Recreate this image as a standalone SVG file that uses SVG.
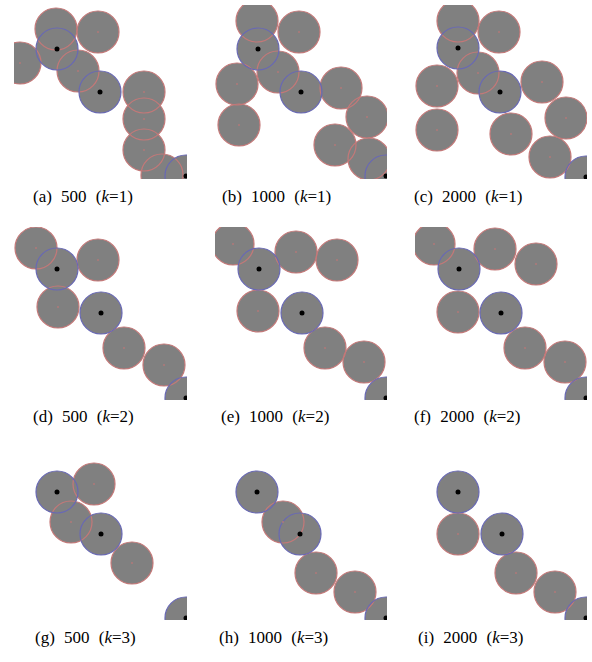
<svg xmlns="http://www.w3.org/2000/svg" xmlns:xlink="http://www.w3.org/1999/xlink" width="592" height="662" viewBox="0 0 592 662">
<style>
.f{fill:#808080;stroke:none}
.r{fill:none;stroke:#c47878;stroke-width:1.2}
.b{fill:none;stroke:#6868b4;stroke-width:1.2}
.d{fill:#000}
.c{fill:#b07878}
.cap{font-family:"Liberation Serif","Times New Roman",serif;font-size:17px;word-spacing:5px;fill:#000}
</style>
<defs>
<clipPath id="ca"><rect x="14" y="5" width="173" height="174"/></clipPath>
<clipPath id="cb"><rect x="215" y="5" width="172" height="174"/></clipPath>
<clipPath id="cc"><rect x="415" y="5" width="172" height="174"/></clipPath>
<clipPath id="cd"><rect x="14" y="227" width="173" height="173"/></clipPath>
<clipPath id="ce"><rect x="215" y="227" width="172" height="173"/></clipPath>
<clipPath id="cf"><rect x="415" y="227" width="172" height="173"/></clipPath>
<clipPath id="cg"><rect x="14" y="447" width="173" height="173"/></clipPath>
<clipPath id="ch"><rect x="215" y="447" width="172" height="173"/></clipPath>
<clipPath id="ci"><rect x="415" y="447" width="172" height="173"/></clipPath>
</defs>
<rect width="592" height="662" fill="#fff"/>

<g id="panel-a" clip-path="url(#ca)">
<g>
<circle class="f" cx="56" cy="29" r="21"/><circle class="f" cx="98" cy="32" r="21"/><circle class="f" cx="20" cy="63" r="21"/><circle class="f" cx="78" cy="71" r="21"/><circle class="f" cx="144" cy="92" r="21"/><circle class="f" cx="144" cy="119" r="21"/><circle class="f" cx="144" cy="150" r="21"/><circle class="f" cx="162" cy="175" r="21"/><circle class="f" cx="57" cy="49" r="21"/><circle class="f" cx="100" cy="92" r="21"/><circle class="f" cx="186" cy="176" r="21"/>
</g>
<g>
<circle class="r" cx="56" cy="29" r="21"/><circle class="r" cx="98" cy="32" r="21"/><circle class="r" cx="20" cy="63" r="21"/><circle class="r" cx="78" cy="71" r="21"/><circle class="r" cx="144" cy="92" r="21"/><circle class="r" cx="144" cy="119" r="21"/><circle class="r" cx="144" cy="150" r="21"/><circle class="r" cx="162" cy="175" r="21"/>
<circle class="b" cx="57" cy="49" r="21"/><circle class="b" cx="100" cy="92" r="21"/><circle class="b" cx="186" cy="176" r="21"/>
<circle class="c" cx="98" cy="32" r="1"/><circle class="c" cx="20" cy="63" r="1"/><circle class="c" cx="78" cy="71" r="1"/><circle class="c" cx="144" cy="92" r="1"/><circle class="c" cx="144" cy="119" r="1"/><circle class="c" cx="144" cy="150" r="1"/>
<circle class="d" cx="57" cy="49" r="2.5"/><circle class="d" cx="100" cy="92" r="2.5"/><circle class="d" cx="186" cy="176" r="2.5"/>
</g>
</g>

<g id="panel-b" clip-path="url(#cb)">
<g>
<circle class="f" cx="257" cy="21" r="21"/><circle class="f" cx="299" cy="32" r="21"/><circle class="f" cx="278" cy="72" r="21"/><circle class="f" cx="237" cy="84" r="21"/><circle class="f" cx="239" cy="125" r="21"/><circle class="f" cx="341" cy="88" r="21"/><circle class="f" cx="367" cy="117" r="21"/><circle class="f" cx="335" cy="145" r="21"/><circle class="f" cx="369" cy="159" r="21"/><circle class="f" cx="258" cy="49" r="21"/><circle class="f" cx="301" cy="92" r="21"/><circle class="f" cx="386" cy="176" r="21"/>
</g>
<g>
<circle class="r" cx="257" cy="21" r="21"/><circle class="r" cx="299" cy="32" r="21"/><circle class="r" cx="278" cy="72" r="21"/><circle class="r" cx="237" cy="84" r="21"/><circle class="r" cx="239" cy="125" r="21"/><circle class="r" cx="341" cy="88" r="21"/><circle class="r" cx="367" cy="117" r="21"/><circle class="r" cx="335" cy="145" r="21"/><circle class="r" cx="369" cy="159" r="21"/>
<circle class="b" cx="258" cy="49" r="21"/><circle class="b" cx="301" cy="92" r="21"/><circle class="b" cx="386" cy="176" r="21"/>
<circle class="c" cx="299" cy="32" r="1"/><circle class="c" cx="278" cy="72" r="1"/><circle class="c" cx="237" cy="84" r="1"/><circle class="c" cx="239" cy="125" r="1"/><circle class="c" cx="341" cy="88" r="1"/><circle class="c" cx="367" cy="117" r="1"/><circle class="c" cx="335" cy="145" r="1"/>
<circle class="d" cx="258" cy="49" r="2.5"/><circle class="d" cx="301" cy="92" r="2.5"/><circle class="d" cx="386" cy="176" r="2.5"/>
</g>
</g>

<g id="panel-c" clip-path="url(#cc)">
<g>
<circle class="f" cx="458" cy="21" r="21"/><circle class="f" cx="499" cy="32" r="21"/><circle class="f" cx="478" cy="73" r="21"/><circle class="f" cx="437" cy="86" r="21"/><circle class="f" cx="437" cy="130" r="21"/><circle class="f" cx="542" cy="82" r="21"/><circle class="f" cx="566" cy="118" r="21"/><circle class="f" cx="511" cy="134" r="21"/><circle class="f" cx="550" cy="157" r="21"/><circle class="f" cx="458" cy="48" r="21"/><circle class="f" cx="500" cy="92" r="21"/><circle class="f" cx="586" cy="177" r="21"/>
</g>
<g>
<circle class="r" cx="458" cy="21" r="21"/><circle class="r" cx="499" cy="32" r="21"/><circle class="r" cx="478" cy="73" r="21"/><circle class="r" cx="437" cy="86" r="21"/><circle class="r" cx="437" cy="130" r="21"/><circle class="r" cx="542" cy="82" r="21"/><circle class="r" cx="566" cy="118" r="21"/><circle class="r" cx="511" cy="134" r="21"/><circle class="r" cx="550" cy="157" r="21"/>
<circle class="b" cx="458" cy="48" r="21"/><circle class="b" cx="500" cy="92" r="21"/><circle class="b" cx="586" cy="177" r="21"/>
<circle class="c" cx="499" cy="32" r="1"/><circle class="c" cx="478" cy="73" r="1"/><circle class="c" cx="437" cy="86" r="1"/><circle class="c" cx="437" cy="130" r="1"/><circle class="c" cx="542" cy="82" r="1"/><circle class="c" cx="566" cy="118" r="1"/><circle class="c" cx="511" cy="134" r="1"/><circle class="c" cx="550" cy="157" r="1"/>
<circle class="d" cx="458" cy="48" r="2.5"/><circle class="d" cx="500" cy="92" r="2.5"/><circle class="d" cx="586" cy="177" r="2.5"/>
</g>
</g>

<g id="panel-d" clip-path="url(#cd)">
<g>
<circle class="f" cx="36" cy="248" r="21"/><circle class="f" cx="98" cy="260" r="21"/><circle class="f" cx="58" cy="307" r="21"/><circle class="f" cx="124" cy="348" r="21"/><circle class="f" cx="164" cy="365" r="21"/><circle class="f" cx="57" cy="269" r="21"/><circle class="f" cx="101" cy="313" r="21"/><circle class="f" cx="186" cy="398" r="21"/>
</g>
<g>
<circle class="r" cx="36" cy="248" r="21"/><circle class="r" cx="98" cy="260" r="21"/><circle class="r" cx="58" cy="307" r="21"/><circle class="r" cx="124" cy="348" r="21"/><circle class="r" cx="164" cy="365" r="21"/>
<circle class="b" cx="57" cy="269" r="21"/><circle class="b" cx="101" cy="313" r="21"/><circle class="b" cx="186" cy="398" r="21"/>
<circle class="c" cx="36" cy="248" r="1"/><circle class="c" cx="98" cy="260" r="1"/><circle class="c" cx="58" cy="307" r="1"/><circle class="c" cx="124" cy="348" r="1"/><circle class="c" cx="164" cy="365" r="1"/>
<circle class="d" cx="57" cy="269" r="2.5"/><circle class="d" cx="101" cy="313" r="2.5"/><circle class="d" cx="186" cy="398" r="2.5"/>
</g>
</g>

<g id="panel-e" clip-path="url(#ce)">
<g>
<circle class="f" cx="233" cy="244" r="21"/><circle class="f" cx="296" cy="252" r="21"/><circle class="f" cx="337" cy="260" r="21"/><circle class="f" cx="258" cy="311" r="21"/><circle class="f" cx="325" cy="348" r="21"/><circle class="f" cx="364" cy="362" r="21"/><circle class="f" cx="259" cy="269" r="21"/><circle class="f" cx="302" cy="313" r="21"/><circle class="f" cx="386" cy="398" r="21"/>
</g>
<g>
<circle class="r" cx="233" cy="244" r="21"/><circle class="r" cx="296" cy="252" r="21"/><circle class="r" cx="337" cy="260" r="21"/><circle class="r" cx="258" cy="311" r="21"/><circle class="r" cx="325" cy="348" r="21"/><circle class="r" cx="364" cy="362" r="21"/>
<circle class="b" cx="259" cy="269" r="21"/><circle class="b" cx="302" cy="313" r="21"/><circle class="b" cx="386" cy="398" r="21"/>
<circle class="c" cx="233" cy="244" r="1"/><circle class="c" cx="296" cy="252" r="1"/><circle class="c" cx="337" cy="260" r="1"/><circle class="c" cx="258" cy="311" r="1"/><circle class="c" cx="325" cy="348" r="1"/><circle class="c" cx="364" cy="362" r="1"/>
<circle class="d" cx="259" cy="269" r="2.5"/><circle class="d" cx="302" cy="313" r="2.5"/><circle class="d" cx="386" cy="398" r="2.5"/>
</g>
</g>

<g id="panel-f" clip-path="url(#cf)">
<g>
<circle class="f" cx="434" cy="244" r="21"/><circle class="f" cx="495" cy="249" r="21"/><circle class="f" cx="536" cy="264" r="21"/><circle class="f" cx="458" cy="312" r="21"/><circle class="f" cx="525" cy="348" r="21"/><circle class="f" cx="565" cy="362" r="21"/><circle class="f" cx="459" cy="269" r="21"/><circle class="f" cx="501" cy="313" r="21"/><circle class="f" cx="586" cy="398" r="21"/>
</g>
<g>
<circle class="r" cx="434" cy="244" r="21"/><circle class="r" cx="495" cy="249" r="21"/><circle class="r" cx="536" cy="264" r="21"/><circle class="r" cx="458" cy="312" r="21"/><circle class="r" cx="525" cy="348" r="21"/><circle class="r" cx="565" cy="362" r="21"/>
<circle class="b" cx="459" cy="269" r="21"/><circle class="b" cx="501" cy="313" r="21"/><circle class="b" cx="586" cy="398" r="21"/>
<circle class="c" cx="434" cy="244" r="1"/><circle class="c" cx="495" cy="249" r="1"/><circle class="c" cx="536" cy="264" r="1"/><circle class="c" cx="458" cy="312" r="1"/><circle class="c" cx="525" cy="348" r="1"/><circle class="c" cx="565" cy="362" r="1"/>
<circle class="d" cx="459" cy="269" r="2.5"/><circle class="d" cx="501" cy="313" r="2.5"/><circle class="d" cx="586" cy="398" r="2.5"/>
</g>
</g>

<g id="panel-g" clip-path="url(#cg)">
<g>
<circle class="f" cx="94" cy="484" r="21"/><circle class="f" cx="71" cy="522" r="21"/><circle class="f" cx="132" cy="563" r="21"/><circle class="f" cx="57" cy="492" r="21"/><circle class="f" cx="101" cy="534" r="21"/><circle class="f" cx="186" cy="618" r="21"/>
</g>
<g>
<circle class="r" cx="94" cy="484" r="21"/><circle class="r" cx="71" cy="522" r="21"/><circle class="r" cx="132" cy="563" r="21"/>
<circle class="b" cx="57" cy="492" r="21"/><circle class="b" cx="101" cy="534" r="21"/><circle class="b" cx="186" cy="618" r="21"/>
<circle class="c" cx="94" cy="484" r="1"/><circle class="c" cx="71" cy="522" r="1"/><circle class="c" cx="132" cy="563" r="1"/>
<circle class="d" cx="57" cy="492" r="2.5"/><circle class="d" cx="101" cy="534" r="2.5"/><circle class="d" cx="186" cy="618" r="2.5"/>
</g>
</g>

<g id="panel-h" clip-path="url(#ch)">
<g>
<circle class="f" cx="283" cy="522" r="21"/><circle class="f" cx="316" cy="573" r="21"/><circle class="f" cx="355" cy="592" r="21"/><circle class="f" cx="257" cy="492" r="21"/><circle class="f" cx="300" cy="534" r="21"/><circle class="f" cx="386" cy="618" r="21"/>
</g>
<g>
<circle class="r" cx="283" cy="522" r="21"/><circle class="r" cx="316" cy="573" r="21"/><circle class="r" cx="355" cy="592" r="21"/>
<circle class="b" cx="257" cy="492" r="21"/><circle class="b" cx="300" cy="534" r="21"/><circle class="b" cx="386" cy="618" r="21"/>
<circle class="c" cx="283" cy="522" r="1"/><circle class="c" cx="316" cy="573" r="1"/><circle class="c" cx="355" cy="592" r="1"/>
<circle class="d" cx="257" cy="492" r="2.5"/><circle class="d" cx="300" cy="534" r="2.5"/><circle class="d" cx="386" cy="618" r="2.5"/>
</g>
</g>

<g id="panel-i" clip-path="url(#ci)">
<g>
<circle class="f" cx="458" cy="534" r="21"/><circle class="f" cx="516" cy="573" r="21"/><circle class="f" cx="555" cy="592" r="21"/><circle class="f" cx="458" cy="492" r="21"/><circle class="f" cx="502" cy="534" r="21"/><circle class="f" cx="586" cy="618" r="21"/>
</g>
<g>
<circle class="r" cx="458" cy="534" r="21"/><circle class="r" cx="516" cy="573" r="21"/><circle class="r" cx="555" cy="592" r="21"/>
<circle class="b" cx="458" cy="492" r="21"/><circle class="b" cx="502" cy="534" r="21"/><circle class="b" cx="586" cy="618" r="21"/>
<circle class="c" cx="458" cy="534" r="1"/><circle class="c" cx="516" cy="573" r="1"/><circle class="c" cx="555" cy="592" r="1"/>
<circle class="d" cx="458" cy="492" r="2.5"/><circle class="d" cx="502" cy="534" r="2.5"/><circle class="d" cx="586" cy="618" r="2.5"/>
</g>
</g>

<g id="captions" class="cap">
<text x="33" y="202">(a) 500 (<tspan font-style="italic">k</tspan>=1)</text>
<text x="222" y="202">(b) 1000 (<tspan font-style="italic">k</tspan>=1)</text>
<text x="414" y="202">(c) 2000 (<tspan font-style="italic">k</tspan>=1)</text>
<text x="33" y="422">(d) 500 (<tspan font-style="italic">k</tspan>=2)</text>
<text x="221" y="422">(e) 1000 (<tspan font-style="italic">k</tspan>=2)</text>
<text x="414" y="422">(f) 2000 (<tspan font-style="italic">k</tspan>=2)</text>
<text x="35" y="643">(g) 500 (<tspan font-style="italic">k</tspan>=3)</text>
<text x="219" y="643">(h) 1000 (<tspan font-style="italic">k</tspan>=3)</text>
<text x="418" y="643">(i) 2000 (<tspan font-style="italic">k</tspan>=3)</text>
</g>
</svg>
